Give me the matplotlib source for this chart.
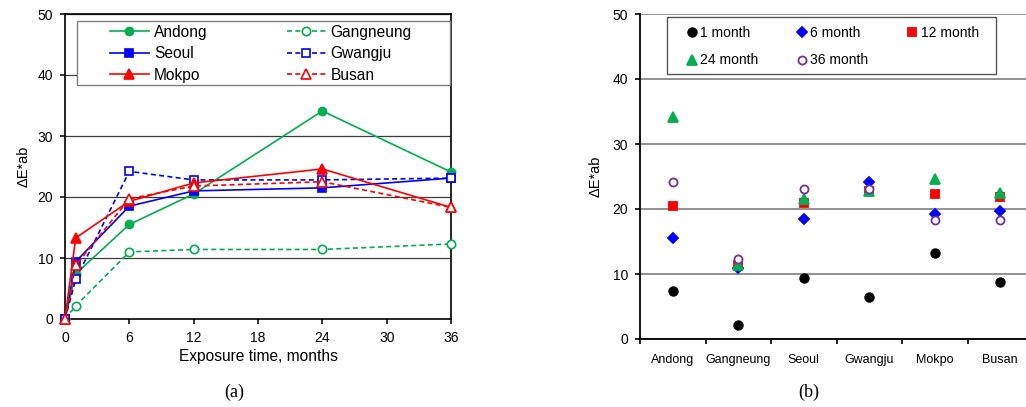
import matplotlib
matplotlib.use('Agg')
import matplotlib.pyplot as plt
from matplotlib.patches import Rectangle
from matplotlib.ticker import FixedLocator, NullFormatter

plt.rcParams['font.family'] = ['Liberation Sans', 'DejaVu Sans']

# ---------------- data ----------------
months = [0, 1, 6, 12, 24, 36]
andong = [0, 7.4, 15.5, 20.5, 34.1, 24.1]
gangneung = [0, 2.15, 11.0, 11.4, 11.4, 12.3]
seoul = [0, 9.4, 18.5, 21.0, 21.5, 23.1]
gwangju = [0, 6.5, 24.2, 22.8, 22.8, 23.1]
mokpo = [0, 13.3, 19.3, 22.3, 24.6, 18.3]
busan = [0, 8.8, 19.7, 21.8, 22.5, 18.3]

cities = ['Andong', 'Gangneung', 'Seoul', 'Gwangju', 'Mokpo', 'Busan']
city_series = [andong, gangneung, seoul, gwangju, mokpo, busan]

period_labels = ['1 month', '6 month', '12 month', '24 month', '36 month']
period_months = [1, 6, 12, 24, 36]

x_ticks = [0, 6, 12, 18, 24, 30, 36]
y_ticks = [0, 10, 20, 30, 40, 50]

GREEN = '#00B050'
BLUE = '#0000FF'
RED = '#FF0000'
PURPLE = '#7030A0'

W, H = 1026, 407
fig = plt.figure(figsize=(W / 100, H / 100), dpi=100)
ax1 = fig.add_axes([65 / W, 1 - 319 / H, 386 / W, 305 / H])
ax2 = fig.add_axes([640 / W, 1 - 339 / H, 393 / W, 325 / H])

# ---------------- (a) ----------------
styles = {
    'Andong': dict(color=GREEN, marker='o', ls='-', mfc=GREEN, ms=5.8),
    'Gangneung': dict(color=GREEN, marker='o', ls=(0, (3, 2)), mfc='white', ms=6),
    'Seoul': dict(color=BLUE, marker='s', ls='-', mfc=BLUE, ms=5.5),
    'Gwangju': dict(color=BLUE, marker='s', ls=(0, (3, 2)), mfc='white', ms=6),
    'Mokpo': dict(color=RED, marker='^', ls='-', mfc=RED, ms=6.5),
    'Busan': dict(color=RED, marker='^', ls=(0, (3, 2)), mfc='white', ms=6.5),
}
handles = {}
for name, vals in zip(cities, city_series):
    st = styles[name]
    ln, = ax1.plot(months, vals, color=st['color'], marker=st['marker'],
                   linestyle=st['ls'], mfc=st['mfc'], mec=st['color'],
                   ms=st['ms'], mew=1.2, lw=1.2, clip_on=False, zorder=3,
                   label=name)
    handles[name] = ln

ax1.set_xlim(0, 36)
ax1.set_ylim(0, 50)
ax1.set_xticks(x_ticks)
ax1.set_yticks(y_ticks)
ax1.yaxis.grid(True, color='#3c3c3c', lw=0.9)
ax1.set_axisbelow(True)
for sp in ax1.spines.values():
    sp.set_color('black')
    sp.set_linewidth(1.2)
ax1.tick_params(direction='out', length=3.6, width=1.1, labelsize=10, pad=5)
ax1.set_xlabel('Exposure time, months', fontsize=11.2, labelpad=3)
ax1.set_ylabel('ΔE*ab', fontsize=10.5, labelpad=5)

# legend frame (a)
ax1.add_patch(Rectangle((77 / W, 1 - 85 / H), (450 - 77) / W, (85 - 21) / H,
                        transform=fig.transFigure, fc='white', ec='#7f7f7f',
                        lw=1.0, zorder=4, clip_on=False))
order1 = ['Andong', 'Seoul', 'Mokpo', 'Gangneung', 'Gwangju', 'Busan']
leg1 = ax1.legend([handles[n] for n in order1], order1, ncol=2,
                  frameon=False, loc='upper left',
                  bbox_to_anchor=(110 / W, 1 - 24.5 / H),
                  bbox_transform=fig.transFigure, borderpad=0,
                  fontsize=11.2, handlelength=2.5, handletextpad=0.32,
                  columnspacing=5.1, labelspacing=0.42, borderaxespad=0)
leg1.set_zorder(5)

# ---------------- (b) ----------------
pstyles = [
    dict(marker='o', color='black', mfc='black', ms=6.2),
    dict(marker='D', color=BLUE, mfc=BLUE, ms=4.8),
    dict(marker='s', color=RED, mfc=RED, ms=5.5),
    dict(marker='^', color=GREEN, mfc=GREEN, ms=6.5),
    dict(marker='o', color=PURPLE, mfc='white', ms=5.8),
]
xpos = list(range(len(cities)))
phandles = []
for lab, m, st in zip(period_labels, period_months, pstyles):
    idx = months.index(m)
    vals = [s[idx] for s in city_series]
    ln, = ax2.plot(xpos, vals, linestyle='none', marker=st['marker'],
                   color=st['color'], mfc=st['mfc'], mec=st['color'],
                   ms=st['ms'], mew=1.3, zorder=3, label=lab)
    phandles.append(ln)

ax2.set_xlim(-0.5, len(cities) - 0.5)
ax2.set_ylim(0, 50)
ax2.set_yticks(y_ticks)
ax2.xaxis.set_major_locator(FixedLocator([i - 0.5 for i in range(len(cities) + 1)]))
ax2.xaxis.set_major_formatter(NullFormatter())
ax2.xaxis.set_minor_locator(FixedLocator(xpos))
ax2.set_xticklabels(cities, minor=True)
ax2.tick_params(axis='x', which='minor', length=0, labelsize=9, pad=10.5)
ax2.tick_params(axis='x', which='major', direction='out', length=3.6, width=1.2)
ax2.tick_params(axis='y', direction='out', length=3.6, width=1.2, labelsize=10, pad=5)
ax2.yaxis.grid(True, color='#7f7f7f', lw=1.2)
ax2.set_axisbelow(True)
ax2.spines['top'].set_visible(False)
ax2.spines['right'].set_visible(False)
for sp in ('left', 'bottom'):
    ax2.spines[sp].set_color('black')
    ax2.spines[sp].set_linewidth(1.3)
ax2.set_ylabel('ΔE*ab', fontsize=10.5, labelpad=7)

ax2.add_patch(Rectangle((667 / W, 1 - 74 / H), (996 - 667) / W, (74 - 17) / H,
                        transform=fig.transFigure, fc='white', ec='#555555',
                        lw=1.0, zorder=4, clip_on=False))
order2 = [0, 3, 1, 4, 2]
leg2 = ax2.legend([phandles[i] for i in order2], [period_labels[i] for i in order2],
                  ncol=3, frameon=False, loc='upper left',
                  bbox_to_anchor=(686.2 / W, 1 - 25.8 / H),
                  bbox_transform=fig.transFigure, borderpad=0,
                  fontsize=10, handlelength=0.8, handletextpad=0.2,
                  columnspacing=2.75, labelspacing=0.98, borderaxespad=0)
leg2.set_zorder(5)

# panel labels
fig.text(234 / W, 1 - 392 / H, '(a)', ha='center', va='center',
         fontsize=13, family=['Liberation Serif', 'DejaVu Serif'])
fig.text(809 / W, 1 - 392 / H, '(b)', ha='center', va='center',
         fontsize=13, family=['Liberation Serif', 'DejaVu Serif'])

fig.savefig('out.png', dpi=100)
